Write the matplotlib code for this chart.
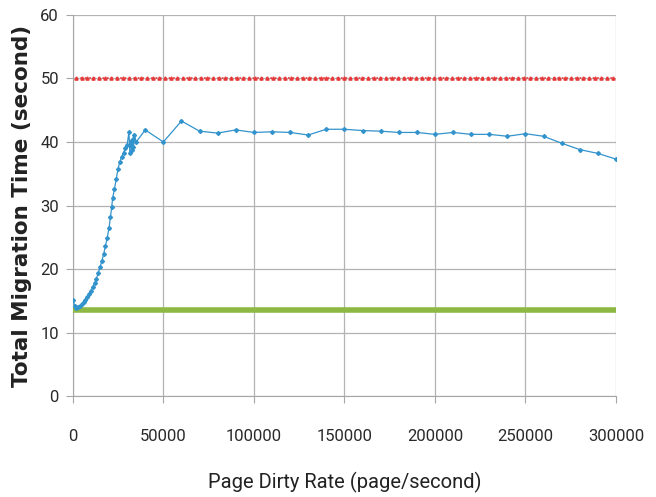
import matplotlib
matplotlib.use("Agg")
import matplotlib.pyplot as plt

# measured series (page dirty rate vs total migration time)
rate = [0, 1000, 2000, 3000, 4000, 5000, 6000, 7000, 8000, 9000, 10000,
        11000, 12000, 13000, 14000, 15000, 16000, 17000, 18000, 19000, 20000,
        20800, 21500, 22000, 23000, 24000, 25000, 26000, 27000, 28000, 29000,
        30000, 31000, 31500, 32000, 32500, 33000, 33500, 34000, 35000,
        40000, 50000, 60000, 70000, 80000, 90000, 100000, 110000, 120000,
        130000, 140000, 150000, 160000, 170000, 180000, 190000, 200000,
        210000, 220000, 230000, 240000, 250000, 260000, 270000, 280000,
        290000, 300000]
mig_time = [15.2, 14.2, 13.9, 14.0, 14.2, 14.5, 14.8, 15.2, 15.6, 16.0, 16.6,
            17.2, 17.8, 18.5, 19.3, 20.3, 21.2, 22.3, 23.6, 24.9, 26.5,
            28.2, 29.8, 31.2, 32.6, 34.2, 35.8, 36.9, 37.7, 38.3, 39.0,
            39.5, 41.6, 38.3, 40.2, 38.8, 40.4, 39.2, 41.1, 40.0,
            41.9, 40.0, 43.3, 41.7, 41.4, 41.9, 41.5, 41.6, 41.5,
            41.1, 42.0, 42.0, 41.8, 41.7, 41.5, 41.5, 41.2,
            41.5, 41.2, 41.2, 40.9, 41.3, 40.9, 39.8, 38.8,
            38.2, 37.3]

bound_x = list(range(1500, 300001, 3300))
upper_bound = [50.0] * len(bound_x)
lower_bound = [13.5, 13.5]
lower_x = [0, 300000]

narrow = ["Roboto", "DejaVu Sans"]

fig = plt.figure(figsize=(6.56, 4.97), dpi=100)
ax = fig.add_axes([0.111, 0.203, 0.828, 0.767])

ax.plot(bound_x, upper_bound, color="#e8393a", linestyle=":", linewidth=1.2,
        marker="^", markersize=2.3, zorder=3)
ax.plot(lower_x, lower_bound, color="#8db843", linewidth=4, zorder=3)
ax.plot(rate, mig_time, color="#3393cc", linewidth=0.9, marker="D",
        markersize=2.0, zorder=4)

ax.set_xlim(0, 300000)
ax.set_ylim(0, 60)
ax.set_xticks(range(0, 300001, 50000))
ax.set_yticks(range(0, 61, 10))
ax.grid(True, color="#b3b3b3", linewidth=0.9)
ax.set_axisbelow(True)
for side in ("top", "right"):
    ax.spines[side].set_visible(False)
for side in ("left", "bottom"):
    ax.spines[side].set_color("#a6a6a6")
ax.tick_params(axis="both", color="#a6a6a6", length=5, labelsize=12,
               labelcolor="#2a2a2a")
ax.tick_params(axis="x", pad=19)
ax.tick_params(axis="y", pad=5)
for lab in ax.get_xticklabels() + ax.get_yticklabels():
    lab.set_family(narrow)

ax.set_xlabel("Page Dirty Rate (page/second)", fontsize=14.5, labelpad=20,
              family=narrow, color="#222222")
ax.set_ylabel("Total Migration Time (second)", fontsize=15.5,
              family=["DejaVu Sans"], fontweight="bold", color="#222222",
              labelpad=6)

fig.savefig("out.png", dpi=100)
